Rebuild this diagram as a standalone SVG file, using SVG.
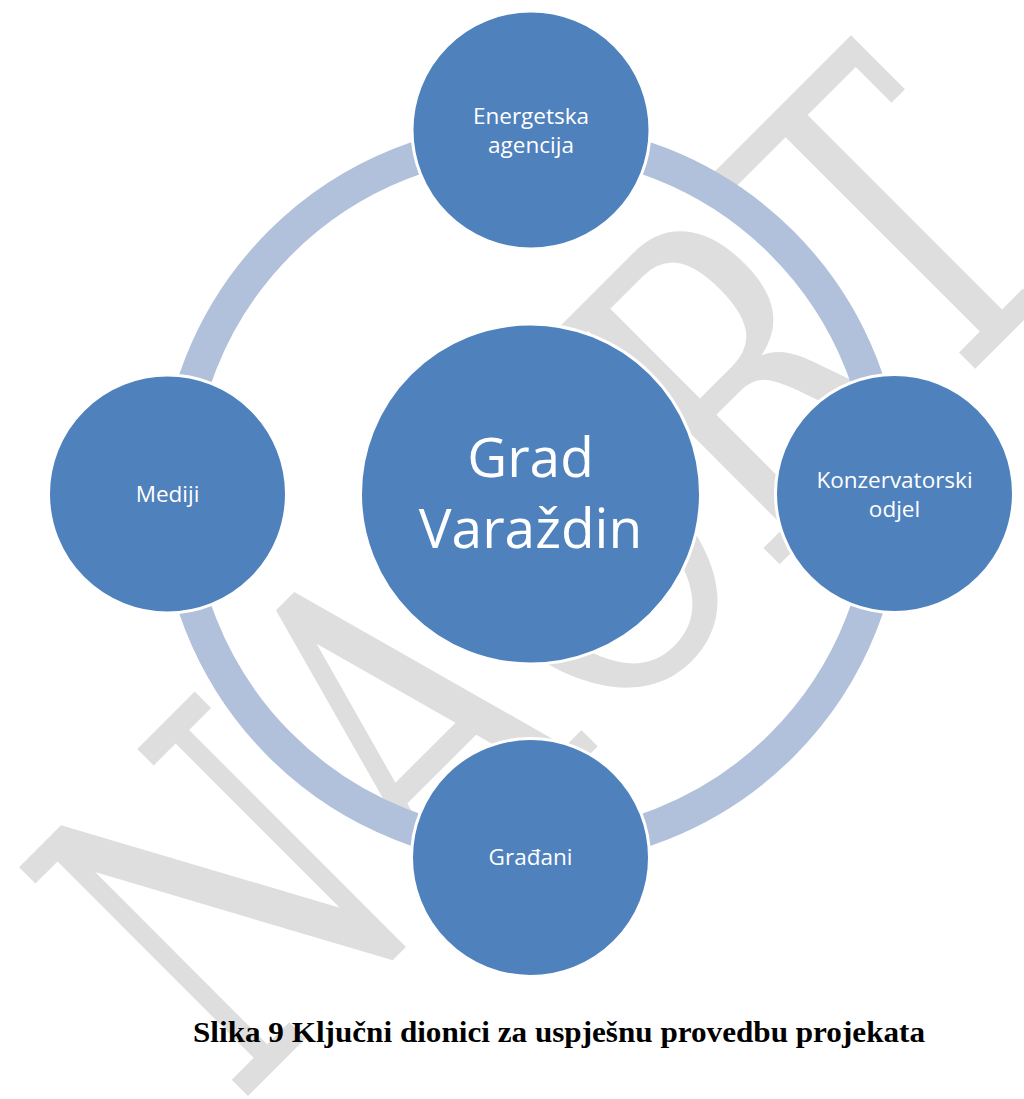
<svg xmlns="http://www.w3.org/2000/svg" width="1024" height="1099" viewBox="0 0 1024 1099">
<style>
.node{fill:#4F81BD;stroke:#FFFFFF;stroke-width:3}
.lbl{font-family:"Open Sans","Noto Sans",sans-serif;fill:#FFFFFF;text-anchor:middle;font-size:22.5px}
.big{font-family:"Open Sans","Noto Sans",sans-serif;fill:#FFFFFF;text-anchor:middle;font-size:55px}
.ring{fill:none;stroke:#B1C1DB;stroke-width:33}
.wm{font-family:"DejaVu Serif",serif;font-size:444px;fill:#DEDEDE}
.cap{font-family:"Liberation Serif",serif;font-weight:bold;font-size:29px;fill:#000000}
</style>
<rect x="0" y="0" width="1024" height="1099" fill="#FFFFFF"/>
<g id="watermark">
<text class="wm" transform="translate(237,1107) rotate(-45) scale(0.715,1)">NACRT</text>
</g>
<g id="connectors">
<circle class="ring" cx="531" cy="494" r="355"/>
</g>
<g id="node-center">
<circle class="node" cx="530.5" cy="494" r="170"/>
<text class="big" x="530.5" y="477">Grad</text>
<text class="big" x="530.5" y="547.5">Varaždin</text>
</g>
<g id="node-top">
<circle class="node" cx="531" cy="130" r="119"/>
<text class="lbl" x="531" y="123.5">Energetska</text>
<text class="lbl" x="531" y="152.5">agencija</text>
</g>
<g id="node-right">
<circle class="node" cx="894.5" cy="493.5" r="119"/>
<text class="lbl" x="894.5" y="487.5">Konzervatorski</text>
<text class="lbl" x="894.5" y="516.5">odjel</text>
</g>
<g id="node-bottom">
<circle class="node" cx="530.5" cy="857.5" r="119"/>
<text class="lbl" x="530.5" y="865">Građani</text>
</g>
<g id="node-left">
<circle class="node" cx="167.5" cy="494" r="119"/>
<text class="lbl" x="167.5" y="501.5">Mediji</text>
</g>
<g id="caption">
<text class="cap" x="193" y="1042" textLength="732" lengthAdjust="spacingAndGlyphs">Slika 9 Ključni dionici za uspješnu provedbu projekata</text>
</g>
</svg>
